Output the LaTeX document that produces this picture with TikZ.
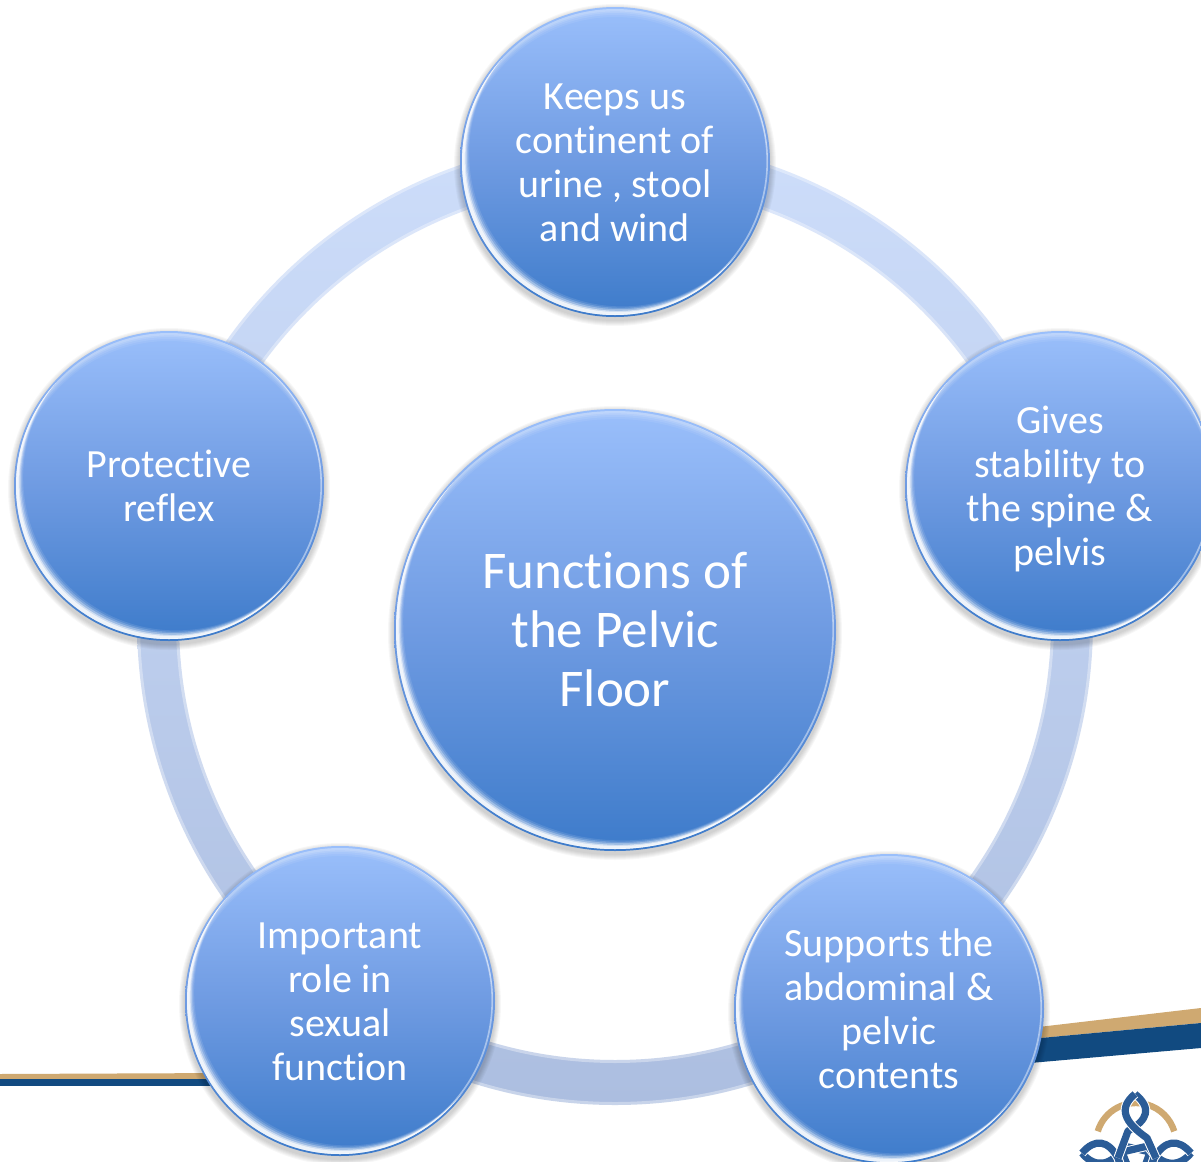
\documentclass[tikz,border=0pt]{standalone}
\usepackage{fontspec}
\setmainfont[Ligatures=NoCommon]{Carlito}
\usetikzlibrary{calc}

\definecolor{bubbletop}{HTML}{9ABFFB}
\definecolor{bubblemid}{HTML}{6F9BE2}
\definecolor{bubblebot}{HTML}{3D7BCA}
\definecolor{ringtop}{HTML}{CDDDFA}
\definecolor{ringbot}{HTML}{ACBEE0}
\definecolor{swishgold}{HTML}{CFA971}
\definecolor{swishnavy}{HTML}{114A80}
\definecolor{logonavy}{HTML}{2B5C97}

\newcommand{\capfix}{\rule{0pt}{.82em}}

\tikzset{
  rim/.style={white, even odd rule},
  bubble/.style={circle, inner sep=0pt, minimum size=#1*1pt, text=white, align=center,
    top color=bubbletop, bottom color=bubblebot, middle color=bubblemid,
    font=\fontsize{20}{22}\selectfont,
    execute at end node={\rule[-.17em]{0pt}{.17em}},
    path picture={
      \coordinate (pc) at (path picture bounding box.center);
      \begin{scope}
      \clip (pc) circle (#1*.5pt-1pt);
      \foreach \dx/\dy/\op in {3.6/4.3/.10,3/3.6/.18,2.4/2.9/.30,1.8/2.1/.50,1.3/1.5/.65}{
        \fill[rim, opacity=\op] (pc) circle (#1*.5pt) ($(pc)+(\dx pt,\dy pt)$) circle (#1*.5pt-1pt);
      }
      \foreach \dy/\op in {4/.07,3/.09,2/.12,1.2/.15}{
        \fill[rim, opacity=\op] (pc) circle (#1*.5pt) ($(pc)+(0pt,-\dy pt)$) circle (#1*.5pt-1pt);
      }
      \fill[rim, opacity=.45] (pc) circle (#1*.5pt) ($(pc)+(-.8pt,.3pt)$) circle (#1*.5pt-1pt);
      \end{scope}
    }},
  bubbleshadow/.style={fill=black, opacity=.03},
  small/.style={bubble=155},
  big/.style={bubble=221, font=\fontsize{26.5}{29.5}\selectfont},
  knotline/.style={draw=white, double=logonavy, double distance=3.6pt, line width=.5pt, line join=round}
}

\begin{document}
\begin{tikzpicture}[x=0.5pt,y=-0.5pt]
\useasboundingbox (0,0) rectangle (1201,1162);
\clip (0,0) rectangle (1201,1162);
\fill[white] (0,0) rectangle (1201,1162);

% swish lines
\fill[swishgold] (0,1074) -- (230,1073) -- (230,1079) -- (0,1079) -- cycle;
\fill[swishnavy] (0,1079) -- (230,1079) -- (230,1086) -- (0,1086) -- cycle;
\fill[swishgold] (1030,1028) -- (1201,1008) -- (1201,1023) -- (1030,1039) -- cycle;
\fill[swishnavy] (1030,1039) -- (1201,1023) -- (1201,1048) -- (1030,1063) -- cycle;

% logo
\draw[swishgold, line width=3.2pt] (1136,1143) ++(197:40) arc (197:343:40);
\draw[knotline] (1082,1153) .. controls (1095,1169) and (1112,1166) .. (1124,1146) -- (1150,1152) -- (1143,1172);
\draw[knotline] (1191,1153) .. controls (1178,1169) and (1160,1166) .. (1148,1146) -- (1122,1152) -- (1130,1172);
\draw[knotline] (1082,1153) .. controls (1095,1138) and (1108,1140) .. (1118,1158) -- (1122,1170);
\draw[knotline] (1191,1153) .. controls (1178,1138) and (1165,1140) .. (1154,1158) -- (1150,1170);
\draw[knotline] (1135,1094) .. controls (1152,1108) and (1148,1120) .. (1128,1131) -- (1118,1158);
\draw[knotline] (1135,1094) .. controls (1118,1108) and (1124,1122) .. (1147,1138) -- (1156,1158);

% ring
\path[top color=ringtop, bottom color=ringbot, even odd rule]
  (615,622) ellipse (478 and 483) (615,622) ellipse (436 and 438);
\foreach \radx/\rady in {436/438,478/483}{
  \draw[white, opacity=.35, line width=3pt] (615,622) ellipse [x radius=\radx, y radius=\rady];
}

% soft shadows
\foreach \pos/\rad in {{615,630}/221,{615,162}/155,{1060,486}/155,{169,486}/155,{340,1001}/155,{889,1009}/155}{
  \foreach \grow in {1,2,...,6}{
    \fill[bubbleshadow] ($(\pos)+(0,3)$) circle ({\rad+\grow});
  }
}

% circles
\node[big] (centre) at (615,630) {\capfix Functions of\\the Pelvic\\Floor};
\node[small] (keeps) at (615,162) {\capfix Keeps us\\continent of\\urine , stool\\and wind};
\node[small] (gives) at (1060,486) {\capfix Gives\\stability to\\the spine \&\\pelvis};
\node[small] (supports) at (889,1009) {\capfix Supports the\\abdominal \&\\pelvic\\contents};
\node[small] (role) at (340,1001) {\capfix Important\\role in\\sexual\\function};
\node[small] (reflex) at (169,486) {\capfix Protective\\reflex};
\end{tikzpicture}
\end{document}
